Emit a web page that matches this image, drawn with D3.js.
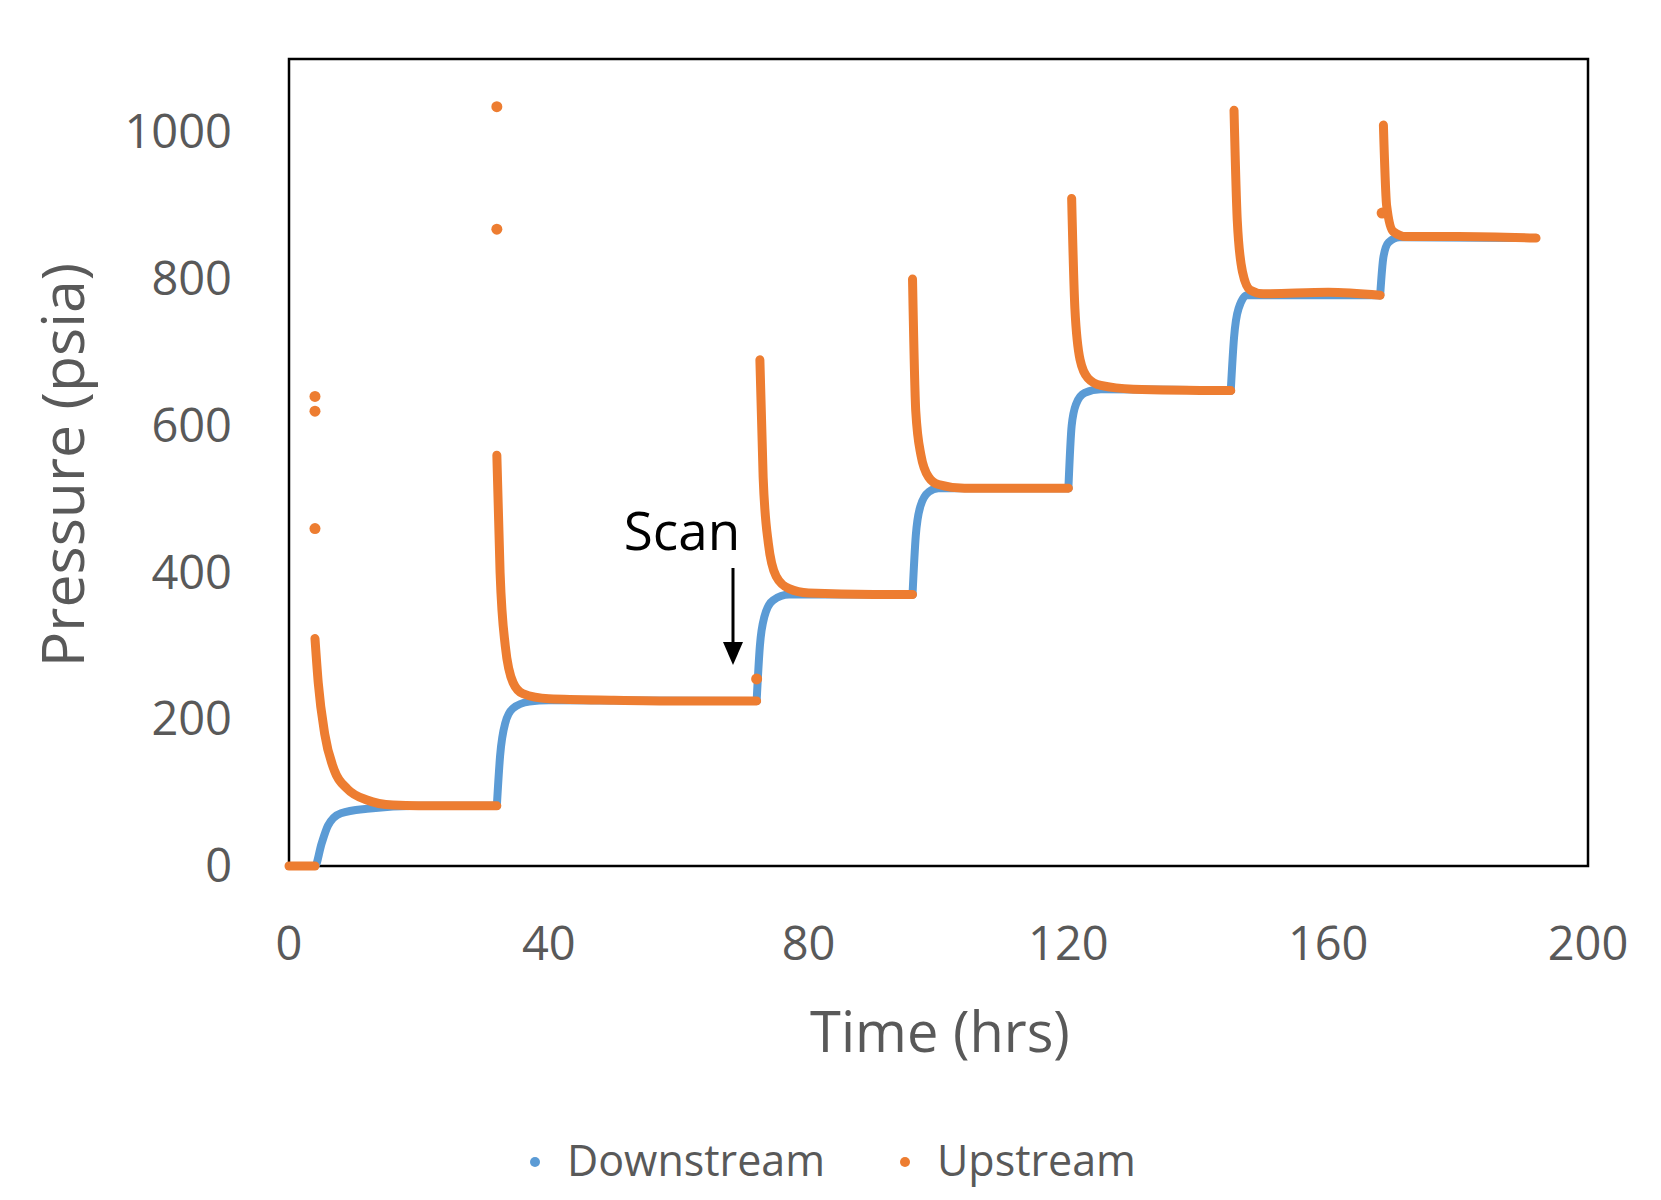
<!DOCTYPE html>
<html><head><meta charset="utf-8">
<script src="https://cdn.jsdelivr.net/npm/d3@7"></script>
<style>body{margin:0;background:#fff}text{font-family:"Open Sans",sans-serif}</style>
</head><body><svg id="c" width="1661" height="1200"></svg>
<script>
const xTicks=[0,40,80,120,160,200];
const yTicks=[0,200,400,600,800,1000];
const seriesNames=["Downstream","Upstream"];
const downSegs=[
 [[0,0],[4,0],[5,30],[6,55],[8,72],[12,78],[20,82],[32,82]],
 [[32,82],[32.5,150],[33.3,195],[34.5,215],[37,224],[40,226],[72,225]],
 [[72,225],[72.5,300],[73.2,340],[74.5,362],[77,370],[96,370]],
 [[96,370],[96.5,450],[97.2,490],[98.5,510],[100,515],[120,515]],
 [[120,515],[120.5,600],[121.2,630],[122.5,645],[125,650],[145,648]],
 [[145,648],[145.5,720],[146.2,760],[147.5,778],[168,778]],
 [[168,778],[168.5,830],[169.3,850],[171,857],[192,856]]
];
const upSegs=[
 [[0,0],[4,0]],
 [[4,310],[4.5,250],[5.5,180],[7,130],[9,105],[12,90],[16,83],[20,82],[32,82]],
 [[32,560],[32.5,400],[33.3,300],[34.5,250],[36,235],[40,228],[50,226],[60,225],[72,225]],
 [[72.5,690],[73,530],[73.8,440],[75,395],[77,378],[80,372],[90,370],[96,370]],
 [[96,800],[96.5,620],[97.3,560],[98.5,530],[100,520],[104,515],[120,515]],
 [[120.5,910],[121,760],[121.8,690],[123,665],[125,655],[130,650],[145,648]],
 [[145.5,1030],[146,880],[146.8,810],[148,785],[150,780],[160,782],[168,778]],
 [[168.5,1010],[169,900],[170,865],[172,858],[180,858],[192,856]]
];
const upDots=[[4,640],[4,620],[4,460],[32,1035],[32,868],[72,255],[168.3,890]];

const svg=d3.select("#c");
const L=289,T=59,R=1588,B=866;
const x=d3.scaleLinear().domain([0,200]).range([L,R]);
const y=d3.scaleLinear().domain([0,1100]).range([B,T]);
const blue="#5B9BD5",orange="#ED7D31";
svg.append("rect").attr("x",L).attr("y",T).attr("width",R-L).attr("height",B-T).attr("fill","none").attr("stroke","#000").attr("stroke-width",2.5);
const line=d3.line().x(d=>x(d[0])).y(d=>y(d[1])).curve(d3.curveMonotoneX);
function draw(segs,col,w){segs.forEach(s=>{
  svg.append("path").attr("d",line(s)).attr("fill","none").attr("stroke",col).attr("stroke-width",w).attr("stroke-linecap","round").attr("stroke-linejoin","round");
});}
draw(downSegs,blue,8);draw(upSegs,orange,9);
svg.selectAll(".ud").data(upDots).join("circle").attr("cx",d=>x(d[0])).attr("cy",d=>y(d[1])).attr("r",5.5).attr("fill",orange);
const g=svg.append("g").attr("fill","#595959").attr("font-size",47);
g.selectAll(".xt").data(xTicks).join("text").attr("x",d=>x(d)).attr("y",960).attr("text-anchor","middle").text(d=>d);
g.selectAll(".yt").data(yTicks).join("text").attr("x",232).attr("y",d=>y(d)+16).attr("text-anchor","end").text(d=>d);
svg.append("text").attr("x",940).attr("y",1052).attr("text-anchor","middle").attr("font-size",56).attr("fill","#595959").text("Time (hrs)");
svg.append("text").attr("transform","translate(84,465) rotate(-90)").attr("text-anchor","middle").attr("font-size",59).attr("fill","#595959").text("Pressure (psia)");
svg.append("text").attr("x",682).attr("y",550).attr("text-anchor","middle").attr("font-size",53).attr("fill","#000").text("Scan");
svg.append("line").attr("x1",733).attr("y1",568).attr("x2",733).attr("y2",645).attr("stroke","#000").attr("stroke-width",3);
svg.append("path").attr("d","M723,642 L743,642 L733,665 Z").attr("fill","#000");
const lg=svg.append("g");
[[535,0],[905,1]].forEach(([lx,i])=>{
  lg.append("circle").attr("cx",lx).attr("cy",1162).attr("r",5).attr("fill",i?orange:blue);
  lg.append("text").attr("x",lx+32).attr("y",1176).attr("font-size",43).attr("fill","#595959").text(seriesNames[i]);
});
</script></body></html>
